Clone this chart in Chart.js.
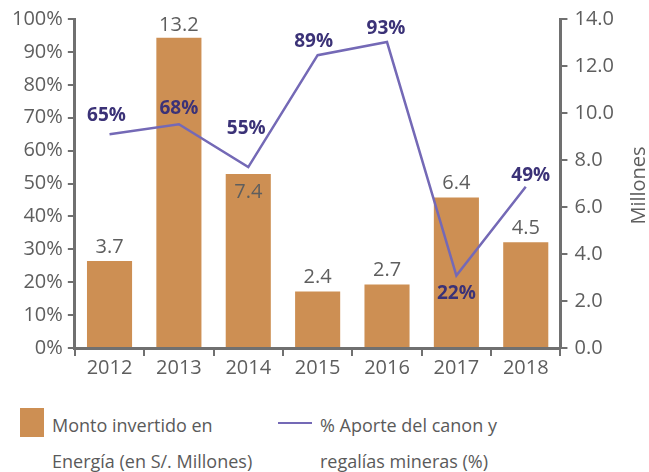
<!DOCTYPE html>
<html>
<head>
<meta charset="utf-8">
<script src="https://cdn.jsdelivr.net/npm/chart.js@4"></script>
<style>
  body { margin: 0; background: #fff; font-family: 'Open Sans', sans-serif; }
  #wrap { position: relative; width: 649px; height: 472px; }
  #chartBox { position: absolute; left: 0; top: 0; width: 649px; height: 380px; }
  .legend { position: absolute; top: 407px; color: #5a5a5a; font-size: 18px; line-height: 36px; }
  .swatch { position: absolute; }
</style>
</head>
<body>
<div id="wrap">
  <div id="chartBox"><canvas id="chart"></canvas></div>
  <div class="swatch" style="left:20px; top:408px; width:24px; height:29px; background:#cd8f53;"></div>
  <div class="legend" style="left:52px;">Monto invertido en<br>Energía (en S/. Millones)</div>
  <div class="swatch" style="left:278px; top:422px; width:34px; height:2px; background:#7469b6;"></div>
  <div class="legend" style="left:320px;">% Aporte del canon y<br>regalías mineras (%)</div>
</div>
<script>
const years = ['2012', '2013', '2014', '2015', '2016', '2017', '2018'];
const montoEnergia = [3.7, 13.2, 7.4, 2.4, 2.7, 6.4, 4.5];
const aporteCanon = [65, 68, 55, 89, 93, 22, 49];

const gray = '#707070';
const textGray = '#5e5e5e';
const tickFont = { family: 'Open Sans', size: 20 };

// label offsets (dx, dy) relative to each point / bar top
const barLabelDy = [-14, -13, 18, -14, -14, -14, -14];
const lineLabelOff = [[-3, -19], [0, -16], [-2, -38], [-4, -14], [-1, -13], [0, 18], [5, -11]];

const labelPlugin = {
    id: 'valueLabels',
    afterDatasetsDraw(chart) {
        const ctx = chart.ctx;
        ctx.save();
        ctx.textAlign = 'center';
        ctx.textBaseline = 'middle';

        const bars = chart.getDatasetMeta(0).data;
        ctx.font = '20px "Open Sans"';
        ctx.fillStyle = textGray;
        bars.forEach(function(bar, i) {
            ctx.fillText(montoEnergia[i].toFixed(1), bar.x, bar.y + barLabelDy[i]);
        });

        const pts = chart.getDatasetMeta(1).data;
        ctx.font = 'bold 19px "Open Sans"';
        ctx.fillStyle = '#3b3277';
        pts.forEach(function(p, i) {
            ctx.fillText(aporteCanon[i] + '%', p.x + lineLabelOff[i][0], p.y + lineLabelOff[i][1]);
        });

        // right axis title, reading bottom to top
        const area = chart.chartArea;
        ctx.translate(639, (area.top + area.bottom) / 2 + 2);
        ctx.rotate(-Math.PI / 2);
        ctx.font = '20px "Open Sans"';
        ctx.fillStyle = textGray;
        ctx.fillText('Millones', 0, 0);
        ctx.restore();
    }
};

new Chart(document.getElementById('chart').getContext('2d'), {
    type: 'bar',
    data: {
        labels: years,
        datasets: [{
            type: 'bar',
            label: 'Monto invertido en Energía (en S/. Millones)',
            data: montoEnergia,
            backgroundColor: '#cd8f53',
            yAxisID: 'y1',
            categoryPercentage: 1,
            barPercentage: 0.65,
            order: 2
        }, {
            type: 'line',
            label: '% Aporte del canon y regalías mineras (%)',
            data: aporteCanon,
            borderColor: '#7469b6',
            borderWidth: 2.5,
            pointRadius: 0,
            tension: 0,
            yAxisID: 'y',
            order: 1
        }]
    },
    options: {
        responsive: true,
        maintainAspectRatio: false,
        animation: false,
        layout: { padding: { top: 15, left: 7, right: 28, bottom: 0 } },
        plugins: {
            legend: { display: false },
            tooltip: { enabled: false }
        },
        scales: {
            x: {
                offset: true,
                border: { color: gray, width: 3 },
                grid: { offset: true, drawOnChartArea: false, color: gray, lineWidth: 2, tickLength: 8 },
                ticks: { color: textGray, font: tickFont, padding: 0 }
            },
            y: {
                position: 'left',
                min: 0,
                max: 100,
                border: { color: gray, width: 3 },
                grid: { drawOnChartArea: false, color: gray, lineWidth: 2, tickLength: 7 },
                ticks: {
                    stepSize: 10,
                    color: textGray,
                    padding: 5,
                    font: tickFont,
                    callback: function(v) { return v + '%'; }
                }
            },
            y1: {
                position: 'right',
                min: 0,
                max: 14,
                border: { color: gray, width: 3 },
                grid: { drawOnChartArea: false, color: gray, lineWidth: 2, tickLength: 7 },
                ticks: {
                    stepSize: 2,
                    color: textGray,
                    padding: 7,
                    font: tickFont,
                    callback: function(v) { return v.toFixed(1); }
                }
            }
        }
    },
    plugins: [labelPlugin]
});
</script>
</body>
</html>
